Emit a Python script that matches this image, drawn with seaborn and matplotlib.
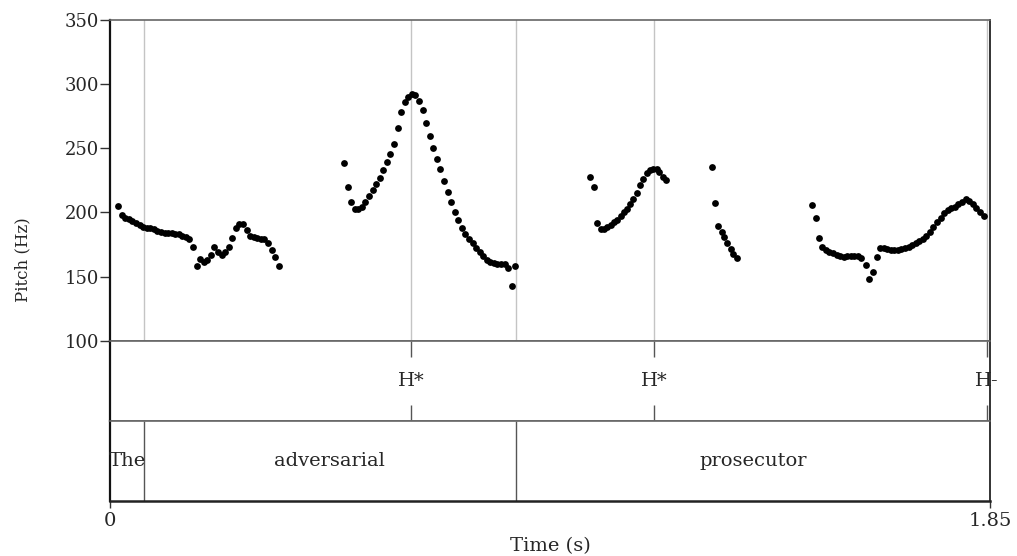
import numpy as np
import pandas as pd
import matplotlib
matplotlib.use("Agg")
import matplotlib.pyplot as plt
import seaborn as sns

# pitch track: time (s) and F0 (Hz), one list per voiced stretch
seg1_time = [0.017, 0.0245, 0.032, 0.0395, 0.047, 0.0545, 0.062, 0.0695, 0.077, 0.0845,
             0.092, 0.0995, 0.107, 0.1145, 0.122, 0.1295, 0.137, 0.1445, 0.152, 0.1595,
             0.167, 0.1745, 0.182, 0.1895, 0.197, 0.2045, 0.212, 0.2195, 0.227, 0.2345,
             0.242, 0.2495, 0.257, 0.2645, 0.272, 0.2795, 0.287, 0.2945, 0.302, 0.3095,
             0.317, 0.3245, 0.332, 0.3395, 0.347, 0.3545]
seg1_hz = [205, 198, 196, 194.5, 193, 191.5, 190, 188.5, 187.5, 188,
           187, 185.5, 184.5, 184, 184, 184, 183.5, 183, 182, 181,
           179.5, 173, 158, 164, 161, 162.7, 167, 173, 169, 167,
           169, 173, 180, 187.5, 190.6, 190.6, 186, 182, 181, 180,
           179.5, 179, 176, 170.5, 165, 158]

seg2_time = [0.492, 0.4995, 0.507, 0.5145, 0.522, 0.5295, 0.537, 0.5445, 0.552, 0.5595,
             0.567, 0.5745, 0.582, 0.5895, 0.597, 0.6045, 0.612, 0.6195, 0.627, 0.6345,
             0.642, 0.6495, 0.657, 0.6645, 0.672, 0.6795, 0.687, 0.6945, 0.702, 0.7095,
             0.717, 0.7245, 0.732, 0.7395, 0.747, 0.7545, 0.762, 0.7695, 0.777, 0.7845,
             0.792, 0.7995, 0.807, 0.8145, 0.822, 0.8295, 0.837, 0.8445, 0.852]
seg2_hz = [238.5, 219.7, 207.9, 202.7, 202.7, 204.5, 208.4, 212.9, 217.6, 222.0,
           227.2, 232.7, 239.3, 245.5, 253.3, 265.8, 278.4, 286.1, 289.9, 292.0,
           291.5, 286.8, 279.7, 269.8, 259.3, 250.2, 241.8, 234.0, 224.8, 216.2,
           208.2, 200.5, 194.0, 188.0, 183.0, 179.2, 175.8, 172.6, 169.2, 166.0,
           163.2, 161.4, 160.6, 160.1, 160.1, 159.6, 156.7, 142.3, 158.0]

seg3_time = [1.0091, 1.0175, 1.0244, 1.0316, 1.0385, 1.0455, 1.0526, 1.0595, 1.0665, 1.0736,
             1.0806, 1.0875, 1.0932, 1.1001, 1.1073, 1.1142, 1.1211, 1.1283, 1.1352, 1.1422,
             1.1493, 1.1548, 1.1619, 1.1688]
seg3_hz = [228, 219.7, 192, 187, 187, 188.3, 190.1, 192.2, 194.4, 197.2,
           200, 202.9, 206.6, 210.3, 215.5, 221.2, 226.4, 230.6, 232.7, 233.8,
           233.8, 231.9, 228, 225.4]

seg4_time = [1.2662, 1.2719, 1.2788, 1.2860, 1.2914, 1.2977, 1.3049, 1.3103, 1.3175]
seg4_hz = [235.2, 207.1, 189.6, 184.9, 180.5, 175.8, 171.3, 167.4, 164.8]

seg5_time = [1.4751, 1.4836, 1.4905, 1.4974, 1.5048, 1.5124, 1.5199, 1.5273, 1.5346, 1.5422,
             1.5498, 1.5571, 1.5647, 1.5723, 1.5796, 1.5887, 1.5956, 1.6047, 1.6118, 1.6187,
             1.6261, 1.6335, 1.6410, 1.6486, 1.6562, 1.6635, 1.6711, 1.6786, 1.6860, 1.6936,
             1.7012, 1.7085, 1.7161, 1.7236, 1.7310, 1.7386, 1.7461, 1.7535, 1.7611, 1.7686,
             1.7760, 1.7836, 1.7911, 1.7989, 1.8058, 1.8136, 1.8212, 1.8288, 1.8363]
seg5_hz = [206, 196, 180, 173, 171, 169.5, 168, 167, 166, 165.5,
           165.8, 166, 166.3, 166, 164.5, 159, 148.5, 153.5, 165, 172.5,
           172, 171.8, 171, 170.6, 170.8, 171.2, 172, 173, 174.3, 176,
           177.5, 179.5, 182, 185, 188.8, 192.5, 195.5, 199.5, 202, 203.3,
           204.5, 206.5, 208.5, 210.5, 209, 206.5, 203.5, 200.5, 197.5]

# TextGrid tiers
tone_times = [0.633, 1.144, 1.844]
tone_labels = ["H*", "H*", "H-"]
word_bounds = [0.0715, 0.853]
word_labels = ["The", "adversarial", "prosecutor"]
t_end = 1.85


def build_pitch_frame():
    """Stack the voiced stretches into one long dataframe."""
    parts = []
    for t, f in [(seg1_time, seg1_hz), (seg2_time, seg2_hz), (seg3_time, seg3_hz),
                 (seg4_time, seg4_hz), (seg5_time, seg5_hz)]:
        parts.append(pd.DataFrame({"time": t, "pitch": f}))
    return pd.concat(parts, ignore_index=True)


sns.set_style("white")
plt.rcParams['font.family'] = ['DejaVu Serif']

fig = plt.figure(figsize=(10.17, 5.56), dpi=100)
ax = fig.add_axes([0.1082, 0.3872, 0.8653, 0.5768])
tier1 = fig.add_axes([0.1082, 0.2434, 0.8653, 0.1439])
tier2 = fig.add_axes([0.1082, 0.0989, 0.8653, 0.1445])

# pitch panel
df = build_pitch_frame()
for t in word_bounds + tone_times:
    ax.axvline(t, color='#c4c4c4', lw=1, zorder=1)
sns.scatterplot(data=df, x='time', y='pitch', color='black', s=24, linewidth=0,
                ax=ax, zorder=3, legend=False)
ax.set_xlim(0, t_end)
ax.set_ylim(100, 350)
ax.set_yticks(range(100, 351, 50))
ax.set_xticks([])
ax.set_xlabel('')
ax.set_ylabel('')
ax.tick_params(axis='y', left=True, direction='out', length=7, width=1,
               color='#333333', labelsize=13, pad=1)

# tone tier (point tier)
for t, lab in zip(tone_times, tone_labels):
    tier1.vlines(t, 0.8, 1, color='#555555', lw=1)
    tier1.vlines(t, 0, 0.2, color='#555555', lw=1)
    tier1.text(t, 0.5, lab, ha='center', va='center', fontsize=14, clip_on=False)

# word tier (interval tier)
edges = [0] + word_bounds + [t_end]
for t in word_bounds:
    tier2.vlines(t, 0, 1, color='#555555', lw=1)
for i, lab in enumerate(word_labels):
    tier2.text((edges[i] + edges[i + 1]) / 2, 0.5, lab, ha='center', va='center', fontsize=14)

for a in [ax, tier1, tier2]:
    a.set_xlim(0, t_end)
    for s in a.spines.values():
        s.set_visible(True)
        s.set_color('#666666')
        s.set_linewidth(1.2)
    a.spines['left'].set_color('#111111')
    a.spines['left'].set_linewidth(1.6)
    a.spines['right'].set_color('#333333')
    a.spines['right'].set_linewidth(1.4)

for a in [tier1, tier2]:
    a.set_ylim(0, 1)
    a.set_yticks([])

tier1.set_xticks([])
tier2.spines['bottom'].set_color('#222222')
tier2.spines['bottom'].set_linewidth(1.8)
tier2.set_xticks([0, t_end])
tier2.set_xticklabels(['0', '1.85'])
tier2.tick_params(axis='x', bottom=True, direction='out', length=5, width=1,
                  color='#333333', labelsize=14, pad=3)
tier2.set_xlabel('Time (s)', fontsize=14, labelpad=5)

fig.text(23 / 1017, 1 - 260 / 556, 'Pitch (Hz)', rotation=90, ha='center', va='center',
         fontsize=12)

fig.savefig('out.png', dpi=100)
